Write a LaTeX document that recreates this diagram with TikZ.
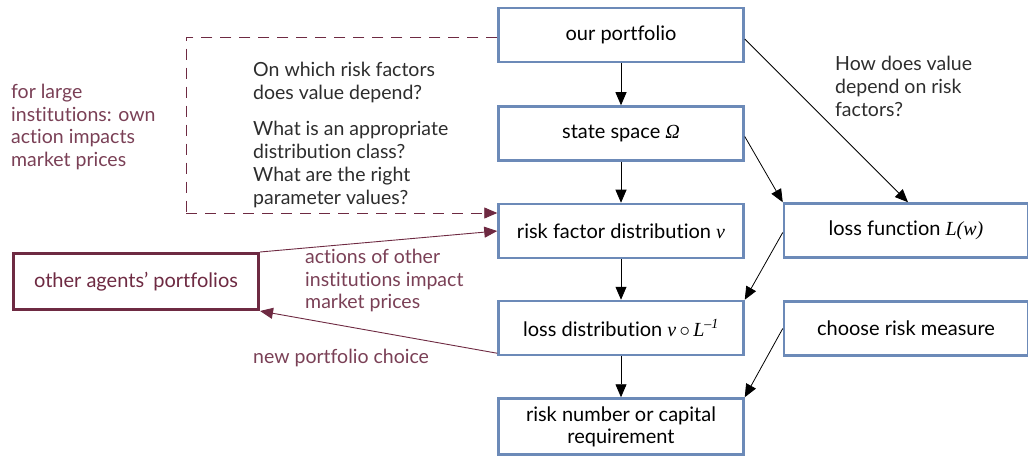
\documentclass[tikz,border=0pt]{standalone}
\usepackage{amsmath}
\usepackage{fontspec}
\setmainfont{Lato}[Ligatures=NoCommon]
\newfontfamily\seriffont{Liberation Serif}
\usetikzlibrary{arrows.meta}
\definecolor{boxblue}{RGB}{108,138,184}
\definecolor{maroon}{RGB}{110,42,66}
\definecolor{maroontext}{RGB}{122,64,86}
\definecolor{annot}{RGB}{45,45,45}
\newcommand{\sit}[1]{{\seriffont\itshape #1}}
\begin{document}
\begin{tikzpicture}[x=1pt,y=-1pt,
  bbox/.style={draw=boxblue,line width=2.5pt,fill=white,minimum width=245pt,minimum height=54pt,inner sep=2pt,align=center,font=\fontsize{20}{23}\selectfont,text=black},
  mbox/.style={draw=maroon,line width=3pt,fill=white,minimum width=245pt,minimum height=56pt,inner sep=2pt,align=center,font=\fontsize{20}{23}\selectfont,text=maroon},
  arr/.style={draw=black,line width=0.8pt,-{Triangle[length=13pt,width=11pt]}},
  marr/.style={draw=maroon,line width=0.9pt,-{Triangle[length=13pt,width=11pt]}},
  ann/.style={anchor=north west,align=left,inner sep=0pt,font=\fontsize{19.5}{23}\selectfont,text=annot},
  mann/.style={anchor=north west,align=left,inner sep=0pt,font=\fontsize{19.5}{22.5}\selectfont,text=maroontext}
]
\useasboundingbox (0,0) rectangle (1028,457);
\node[bbox] (port) at (621,35) {our portfolio};
\node[bbox] (state) at (621,133.5) {state space \sit{Ω}};
\node[bbox] (riskf) at (621,231) {risk factor distribution \sit{ν}};
\node[bbox] (lossd) at (621,328) {loss distribution \sit{ν}\,$\circ$\,\sit{L}\textsuperscript{\sit{–1}}};
\node[bbox,minimum height=56pt,font=\fontsize{20}{22}\selectfont] (risknum) at (621,426.5) {risk number or capital\\requirement};
\node[bbox,minimum width=244pt] (lossf) at (906,230.5) {loss function \sit{L(w)}};
\node[bbox,minimum width=244pt] (choose) at (906,328.5) {choose risk measure};
\node[mbox] (other) at (136,281.5) {other agents’ portfolios};

\draw[arr] (port.south) -- (state.north);
\draw[arr] (state.south) -- (riskf.north);
\draw[arr] (riskf.south) -- (lossd.north);
\draw[arr] (lossd.south) -- (risknum.north);
\draw[arr] ([yshift=-3pt]state.east) -- (lossf.north west);
\draw[arr] ([yshift=-4pt]port.east) -- ([xshift=2pt]lossf.north);
\draw[arr] ([yshift=-2pt]lossf.west) -- (lossd.north east);
\draw[arr] (choose.west) -- (risknum.north east);

\coordinate (dl) at (186,37);
\coordinate (db) at (186,213);
\draw[maroon,line width=0.9pt,dash pattern=on 11pt off 8pt] ([yshift=-2pt]port.west) -- (dl) -- (db);
\draw[marr,dash pattern=on 11pt off 8pt] (db) -- ([yshift=18pt]riskf.west);
\draw[marr] (other.north east) -- (riskf.west);
\draw[marr] ([yshift=3pt]lossd.south west) -- (other.south east);

\node[mann] (t1) at (11,84) {for large\\institutions: own\\action impacts\\market prices};
\node[ann] (t2) at (253,62) {On which risk factors\\does value depend?};
\node[ann] (t3) at (253,121) {What is an appropriate\\distribution class?\\What are the right\\parameter values?};
\node[ann] (t4) at (835,56) {How does value\\depend on risk\\factors?};
\node[mann] (t5) at (305,249) {actions of other\\institutions impact\\market prices};
\node[mann] (t6) at (253,349) {new portfolio choice};
\end{tikzpicture}
\end{document}
